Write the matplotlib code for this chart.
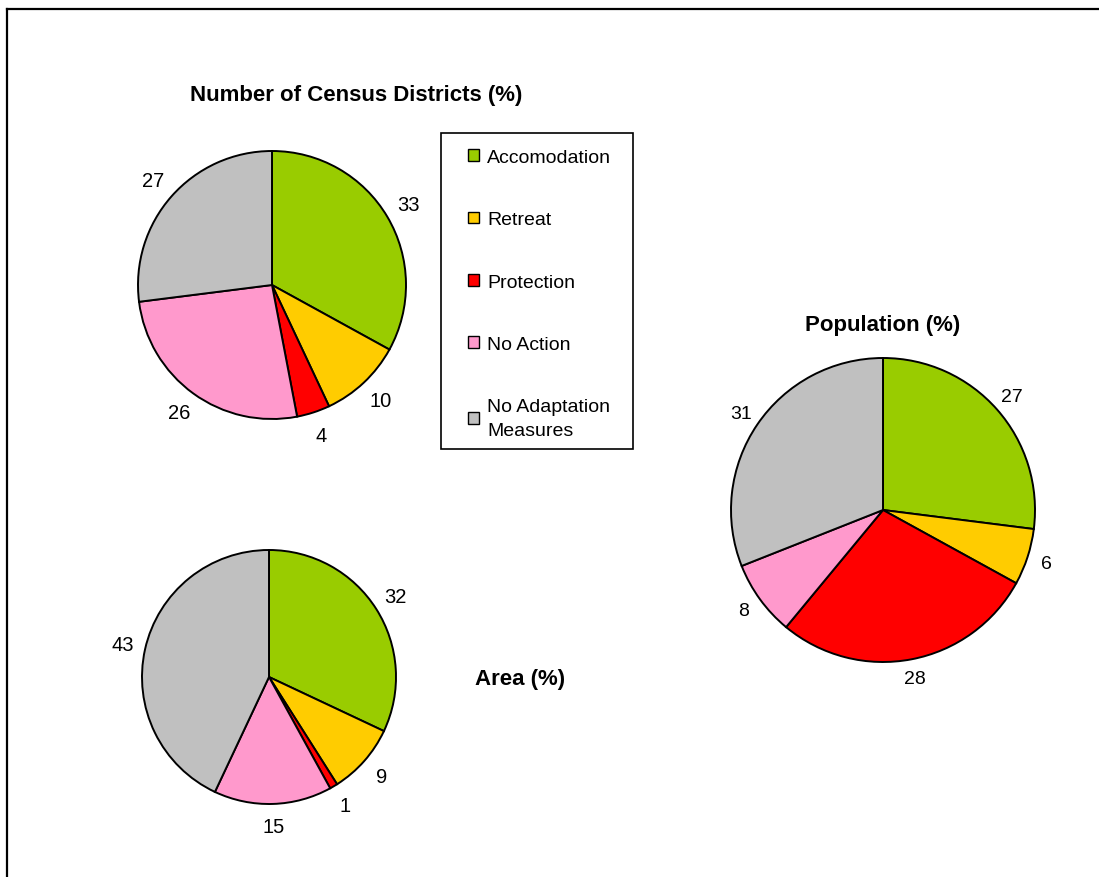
import matplotlib
matplotlib.use('Agg')
import matplotlib.pyplot as plt
from matplotlib.patches import Patch, Rectangle
from matplotlib.lines import Line2D

plt.rcParams['font.family'] = ['Liberation Sans', 'DejaVu Sans']

# data
categories = ['Accomodation', 'Retreat', 'Protection', 'No Action', 'No Adaptation\nMeasures']
colors = ['#99CC00', '#FFCC00', '#FF0000', '#FF99CC', '#C0C0C0']
census = [33, 10, 4, 26, 27]
area = [32, 9, 1, 15, 43]
population = [27, 6, 28, 8, 31]

W, H = 1099, 878
fig = plt.figure(figsize=(W / 100, H / 100), dpi=100)
ax = fig.add_axes([0, 0, 1, 1])

def pie(values, cx, cy, r, dist, fs):
    # cx, cy in pixels from the top-left
    wedges, texts = ax.pie(values, colors=colors, startangle=90, counterclock=False,
                           center=(cx, H - cy), radius=r,
                           labels=[str(v) for v in values], labeldistance=dist,
                           wedgeprops=dict(edgecolor='black', linewidth=1.4),
                           textprops=dict(fontsize=fs))
    for t in texts:
        t.set_horizontalalignment('center')
        t.set_verticalalignment('center')

pie(census, 272, 286, 134, 1.18, 14.5)
pie(area, 269, 678, 127, 1.18, 14.5)
pie(population, 883, 511, 152, 1.13, 14)

ax.text(356, H - 95, 'Number of Census Districts (%)', ha='center', va='center',
        fontsize=16, fontweight='bold')
ax.text(520, H - 679, 'Area (%)', ha='center', va='center', fontsize=16, fontweight='bold')
ax.text(883, H - 325, 'Population (%)', ha='center', va='center', fontsize=16, fontweight='bold')

ax.set_xlim(0, W)
ax.set_ylim(0, H)
ax.set_aspect('equal')
ax.axis('off')

# legend box drawn separately so the padding can match
fig.add_artist(Rectangle((441 / W, 1 - 450 / H), 192 / W, 316 / H, facecolor='white',
                         edgecolor='black', linewidth=1.2, transform=fig.transFigure))
handles = [Patch(facecolor=c, edgecolor='black', linewidth=1.0) for c in colors]
leg = fig.legend(handles, categories, loc='upper left',
                 bbox_to_anchor=(468 / W, 1 - 150 / H), borderaxespad=0, borderpad=0,
                 fontsize=14, handlelength=0.55, handleheight=0.55, handletextpad=0.45,
                 labelspacing=2.33, frameon=False)
leg.get_texts()[-1].set_linespacing(1.5)

# outer border (left and top edges only visible)
fig.add_artist(Line2D([7 / W, 7 / W], [0, 1 - 10 / H], color='black', linewidth=1.6,
                      transform=fig.transFigure))
fig.add_artist(Line2D([7 / W, 1], [1 - 10 / H, 1 - 10 / H], color='black', linewidth=1.6,
                      transform=fig.transFigure))

fig.savefig('out.png', dpi=100)
